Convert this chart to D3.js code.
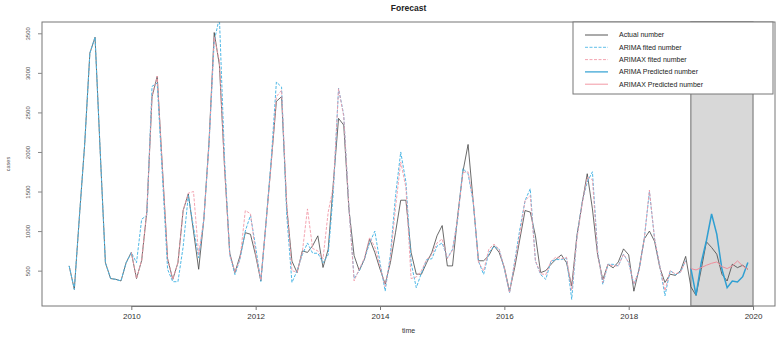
<!DOCTYPE html>
<html>
<head>
<meta charset="utf-8">
<script src="https://cdn.jsdelivr.net/npm/d3@7"></script>
<style>
  body { margin: 0; background: #fff; }
  text { font-family: "Liberation Sans", Arial, sans-serif; }
</style>
</head>
<body>
<svg id="forecast"></svg>
<script>
// monthly series, first value = Jan 2009
const startYear = 2009;

const actualCases = [560, 263, 1200, 2100, 3250, 3450, 2000, 600, 400, 390, 370, 600,
  730, 400, 630, 1250, 2700, 2955, 1800, 650, 390, 600, 1260, 1470,
  1000, 517, 1150, 2130, 3510, 3100, 1800, 720, 475, 690, 980, 960,
  690, 370, 1110, 1870, 2640, 2700, 1300, 620, 475, 750, 730, 815,
  940, 540, 770, 1620, 2425, 2340, 1280, 690, 500, 645, 900, 730,
  520, 330, 600, 985, 1390, 1390, 730, 455, 455, 600, 730, 940,
  1070, 560, 560, 1200, 1750, 2095, 1365, 625, 625, 690, 815, 730,
  540, 240, 540, 900, 1260, 1240, 940, 475, 500, 580, 645, 700,
  600, 305, 940, 1345, 1725, 1280, 700, 385, 580, 535, 610, 775,
  700, 240, 520, 900, 1000, 870, 540, 350, 455, 440, 500, 680,
  296, 186, 517, 865, 793, 708, 454, 369, 581, 538, 568, 517];

const arimaFitted = [560, 263, 1200, 2100, 3250, 3450, 2000, 600, 400, 390, 370, 600,
  730, 600, 1150, 1200, 2830, 2870, 1700, 517, 360, 360, 800, 1450,
  1050, 660, 1150, 2100, 3400, 3700, 1900, 700, 450, 650, 1000, 1200,
  800, 360, 1100, 1900, 2885, 2820, 1200, 350, 500, 700, 850, 720,
  720, 600, 700, 1500, 2806, 2467, 1300, 400, 500, 650, 850, 1000,
  600, 242, 700, 1450, 2000, 1620, 600, 284, 470, 640, 650, 810,
  850, 660, 770, 1150, 1790, 1725, 1365, 620, 453, 729, 806, 771,
  520, 220, 620, 1026, 1386, 1535, 623, 450, 390, 620, 640, 640,
  660, 136, 920, 1360, 1620, 1750, 750, 326, 580, 580, 560, 708,
  602, 326, 500, 900, 1500, 900, 560, 182, 500, 450, 480, 627];

// ARIMAX fit starts one season later (Jan 2010)
const arimaxFitted = [null, null, null, null, null, null, null, null, null, null, null, null,
  730, 400, 630, 1250, 2700, 2960, 1800, 650, 390, 600, 1260, 1480,
  1500, 700, 1150, 2100, 3450, 3150, 1800, 700, 480, 650, 1260, 1220,
  720, 380, 1100, 1850, 2700, 2780, 1350, 500, 480, 730, 1280, 780,
  750, 650, 1240, 1560, 2800, 2450, 1300, 370, 520, 660, 920, 800,
  560, 300, 650, 1300, 1874, 1550, 400, 420, 500, 640, 700, 850,
  900, 650, 760, 1170, 1740, 1750, 1380, 610, 496, 771, 835, 771,
  530, 220, 600, 960, 1386, 1450, 623, 460, 450, 620, 674, 650,
  670, 250, 900, 1340, 1680, 1650, 720, 350, 580, 560, 560, 708,
  602, 326, 500, 900, 1518, 900, 560, 246, 500, 460, 479, 627];

// forecasts for 2019
const predStart = 2019;
const arimaPred = [530, 190, 602, 878, 1216, 962, 517, 284, 369, 356, 424, 602];
const arimaxPred = [526, 509, 538, 568, 593, 610, 551, 526, 560, 623, 560, 517];

const yTicks = [500, 1000, 1500, 2000, 2500, 3000, 3500];
const xTicks = [2010, 2012, 2014, 2016, 2018, 2020];

const W = 782, H = 338;
const margin = { top: 22, right: 7, bottom: 32, left: 42 },
      width = W - margin.left - margin.right,
      height = H - margin.top - margin.bottom;

const toPoints = (vals, start) => vals.map((v, i) => ({ t: start + i / 12, v: v }));

const svg = d3.select("#forecast").attr("width", W).attr("height", H);
const g = svg.append("g").attr("transform", `translate(${margin.left},${margin.top})`);

// R style: 4% padding around data range
const tExt = [startYear, startYear + (actualCases.length - 1) / 12];
const tPad = (tExt[1] - tExt[0]) * 0.04;
const x = d3.scaleLinear().domain([tExt[0] - tPad, tExt[1] + tPad]).range([0, width]);

const vExt = d3.extent(actualCases);
const vPad = (vExt[1] - vExt[0]) * 0.04;
const y = d3.scaleLinear().domain([vExt[0] - vPad, vExt[1] + vPad]).range([height, 0]);

g.append("clipPath").attr("id", "plotClip")
  .append("rect").attr("width", width).attr("height", height);

// forecast window
g.append("rect")
  .attr("x", x(predStart))
  .attr("y", 0)
  .attr("width", x(predStart + 1) - x(predStart))
  .attr("height", height)
  .attr("fill", "#d8d8d8")
  .attr("stroke", "#6e6e6e")
  .attr("stroke-width", 1);

const line = d3.line()
  .defined(d => d.v !== null)
  .x(d => x(d.t))
  .y(d => y(d.v));

const series = [
  { name: "Actual number", data: toPoints(actualCases, startYear), color: "#444", dash: null, w: 0.8 },
  { name: "ARIMA fited number", data: toPoints(arimaFitted, startYear), color: "#4fb8e6", dash: "3,1.5", w: 1 },
  { name: "ARIMAX fited number", data: toPoints(arimaxFitted, startYear), color: "#f29aa8", dash: "3,1.5", w: 0.9 },
  { name: "ARIMA Predicted number", data: toPoints(arimaPred, predStart), color: "#2f9fd2", dash: null, w: 1.5 },
  { name: "ARIMAX Predicted number", data: toPoints(arimaxPred, predStart), color: "#f08c9a", dash: null, w: 1 }
];

const lines = g.append("g").attr("clip-path", "url(#plotClip)");
series.forEach(s => {
  lines.append("path")
    .datum(s.data)
    .attr("d", line)
    .attr("fill", "none")
    .attr("stroke", s.color)
    .attr("stroke-width", s.w)
    .attr("stroke-dasharray", s.dash);
});

// box
g.append("rect")
  .attr("width", width).attr("height", height)
  .attr("fill", "none").attr("stroke", "#777").attr("stroke-width", 1);

const xAxis = g.append("g")
  .attr("transform", `translate(0,${height})`)
  .call(d3.axisBottom(x).tickValues(xTicks).tickFormat(d3.format("d")).tickSize(4).tickPadding(3));
xAxis.select(".domain").attr("stroke", "#777")
  .attr("d", `M${x(xTicks[0])},0.5H${x(xTicks[xTicks.length - 1])}`);
xAxis.selectAll(".tick line").attr("stroke", "#777");
xAxis.selectAll("text").attr("fill", "#333").style("font-size", "8px");

const yAxis = g.append("g")
  .call(d3.axisLeft(y).tickValues(yTicks).tickSize(4).tickFormat(d3.format("d")));
yAxis.select(".domain").remove();
yAxis.selectAll(".tick line").attr("stroke", "#888");
yAxis.selectAll("text")
  .attr("x", 0).attr("y", 0)
  .attr("transform", "translate(-14,0) rotate(-90)")
  .attr("text-anchor", "middle")
  .attr("dy", "0.35em")
  .attr("fill", "#555")
  .style("font-size", "6px");

svg.append("text")
  .attr("x", margin.left + width / 2)
  .attr("y", 11)
  .attr("text-anchor", "middle")
  .style("font-size", "8.5px")
  .style("font-weight", "bold")
  .attr("fill", "#222")
  .text("Forecast");

svg.append("text")
  .attr("x", margin.left + width / 2)
  .attr("y", 333)
  .attr("text-anchor", "middle")
  .style("font-size", "7px")
  .attr("fill", "#333")
  .text("time");

svg.append("text")
  .attr("transform", `translate(10,${margin.top + height / 2}) rotate(-90)`)
  .attr("text-anchor", "middle")
  .style("font-size", "5.5px")
  .attr("fill", "#555")
  .text("cases");

// legend, top right
const legend = svg.append("g").attr("transform", "translate(573,22)");
legend.append("rect")
  .attr("width", 200).attr("height", 72)
  .attr("fill", "#fff").attr("stroke", "#777").attr("stroke-width", 1);

series.forEach((s, i) => {
  const row = legend.append("g").attr("transform", `translate(0,${13 + i * 12.3})`);
  row.append("line")
    .attr("x1", 12).attr("x2", 35)
    .attr("stroke", s.color)
    .attr("stroke-width", s.w > 1 ? 1.2 : 0.9)
    .attr("stroke-dasharray", s.dash);
  row.append("text")
    .attr("x", 46).attr("dy", "0.35em")
    .style("font-size", "7px")
    .attr("fill", "#222")
    .text(s.name);
});
</script>
</body>
</html>
